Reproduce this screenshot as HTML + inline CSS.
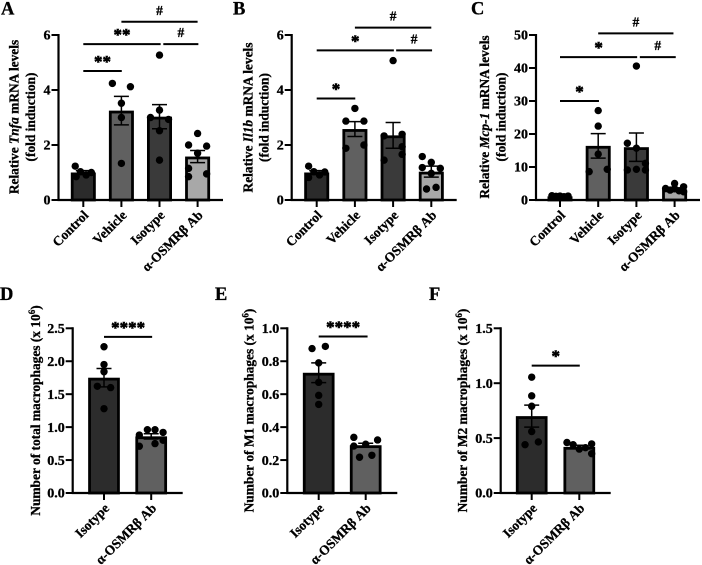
<!DOCTYPE html>
<html lang="en">
<head>
<meta charset="utf-8">
<title>Macrophage and mRNA bar charts</title>
<style>
html,body{margin:0;padding:0;background:#fff;}
svg{display:block;filter:blur(0.35px);}
text{font-family:"Liberation Serif",serif;font-weight:bold;fill:#000;stroke:#000;stroke-width:0.3px;}
</style>
</head>
<body>
<svg id="figure" xmlns="http://www.w3.org/2000/svg" width="702" height="565" viewBox="0 0 702 565">
  <text x="1" y="14.5" font-size="18.5">A</text>
  <text x="233" y="14.5" font-size="18.5">B</text>
  <text x="471" y="14.5" font-size="18.5">C</text>
  <text x="0" y="300" font-size="18.5">D</text>
  <text x="215" y="300" font-size="18.5">E</text>
  <text x="429" y="300" font-size="18.5">F</text>

  <text font-size="13.4" text-anchor="middle" transform="translate(18.5,117) rotate(-90)">Relative <tspan font-style="italic">Tnfa</tspan> mRNA levels</text>
  <text font-size="13.4" text-anchor="middle" transform="translate(35,117) rotate(-90)">(fold induction)</text>
  <text font-size="13.4" text-anchor="middle" transform="translate(252.5,117.5) rotate(-90)">Relative <tspan font-style="italic">Il1b</tspan> mRNA levels</text>
  <text font-size="13.4" text-anchor="middle" transform="translate(268.5,117.5) rotate(-90)">(fold induction)</text>
  <text font-size="13.4" text-anchor="middle" transform="translate(489,117) rotate(-90)">Relative <tspan font-style="italic">Mcp-1</tspan> mRNA levels</text>
  <text font-size="13.4" text-anchor="middle" transform="translate(505.5,117) rotate(-90)">(fold induction)</text>
  <text font-size="13.4" text-anchor="middle" transform="translate(40,410.5) rotate(-90)">Number of total macrophages (x 10<tspan font-size="9" dy="-5">6</tspan><tspan dy="5">)</tspan></text>
  <text font-size="13.4" text-anchor="middle" transform="translate(253.5,410.5) rotate(-90)">Number of M1 macrophages (x 10<tspan font-size="9" dy="-5">6</tspan><tspan dy="5">)</tspan></text>
  <text font-size="13.4" text-anchor="middle" transform="translate(467,410.5) rotate(-90)">Number of M2 macrophages (x 10<tspan font-size="9" dy="-5">6</tspan><tspan dy="5">)</tspan></text>
</svg>
<script>
const categoriesFour = ['Control', 'Vehicle', 'Isotype', 'α-OSMRβ Ab'];
const categoriesTwo = ['Isotype', 'α-OSMRβ Ab'];
const fillsFour = ['#2b2b2b', '#606060', '#3a3a3a', '#a8a8a8'];
const fillsTwo = ['#2c2c2c', '#606060'];

const ticksA = ['0', '2', '4', '6'];
const meansA = [1.0, 3.25, 3.03, 1.58];
const semsA = [0.07, 0.52, 0.44, 0.22];
const pointsA = [
  [1.23, 1.03, 0.85, 0.91, 1.0],
  [4.24, 4.12, 3.52, 3.0, 1.33],
  [5.27, 3.27, 3.0, 2.93, 2.52, 1.45],
  [2.42, 2.0, 1.96, 1.7, 1.15, 0.95, 0.85]
];
const spreadA = [
  [-0.85, -0.3, -0.75, 0.3, 0.85],
  [-0.95, 0.95, 0, 0, 0],
  [0, 0, -0.95, 0.95, 0, 0],
  [0, -0.95, 0.95, 0, -0.95, 0.95, -0.95]
];
const sigA = [
  [1, 3, 6.48, '#'],
  [0, 2.03, 5.67, '**'],
  [2.1, 3.02, 5.67, '#'],
  [0, 1.01, 4.69, '**']
];

const ticksB = ['0', '2', '4', '6'];
const meansB = [1.0, 2.58, 2.35, 1.03];
const semsB = [0.07, 0.27, 0.47, 0.2];
const pointsB = [
  [1.23, 1.03, 0.82, 0.91, 1.02],
  [3.33, 2.87, 2.87, 1.88, 2.0],
  [5.07, 2.39, 2.33, 1.94, 1.66, 1.45],
  [1.58, 1.37, 1.18, 1.15, 0.97, 0.46, 0.4]
];
const spreadB = [
  [-0.85, -0.3, -0.85, 0.3, 0.85],
  [0, -0.95, 0.95, -0.95, 0.95],
  [0, 0.95, -0.95, 0.95, 0.95, -0.95],
  [-0.95, 0, -0.95, 0.95, 0, 0.5, -0.5]
];
const sigB = [
  [1, 3, 6.27, '#'],
  [0, 2.02, 5.44, '*'],
  [2.08, 3.02, 5.44, '#'],
  [0, 1.01, 3.69, '*']
];

const ticksC = ['0', '10', '20', '30', '40', '50'];
const meansC = [1.1, 16.4, 16.0, 3.2];
const semsC = [0.1, 3.7, 4.3, 0.4];
const pointsC = [
  [1.3, 1.1, 1.2, 1.0, 1.2],
  [27.1, 22.4, 13.9, 8.6, 9.3],
  [40.6, 17.2, 15.7, 11.1, 9.1, 9.3, 9.1],
  [5.0, 4.0, 3.5, 3.0, 2.8, 2.5, 3.4]
];
const spreadC = [
  [-0.85, -0.42, 0, 0.42, 0.85],
  [0, 0, 0, -0.95, 0.95],
  [0, -0.95, 0, 0.95, -0.95, 0, 0.95],
  [0, 0.95, -0.95, -0.47, 0.47, 0.95, 0]
];
const sigC = [
  [1, 2.97, 50.5, '#'],
  [0, 2.02, 43.3, '*'],
  [2.09, 3.03, 43.3, '#'],
  [0, 1.02, 30.0, '*']
];

const ticksD = ['0.0', '0.5', '1.0', '1.5', '2.0', '2.5'];
const meansD = [1.75, 0.86];
const semsD = [0.14, 0.04];
const pointsD = [
  [2.22, 1.95, 1.84, 1.62, 1.6, 1.28],
  [0.96, 0.96, 0.92, 0.88, 0.8, 0.75, 0.71]
];
const spreadD = [
  [0, 0, 0, -0.7, 0.7, 0],
  [-0.4, 0.4, 1.25, -1.25, 1.25, 0.4, -1.25]
];
const sigD = [[0, 1.02, 2.37, '****']];

const ticksE = ['0.0', '0.2', '0.4', '0.6', '0.8', '1.0'];
const meansE = [0.73, 0.29];
const semsE = [0.06, 0.012];
const pointsE = [
  [0.877, 0.89, 0.79, 0.672, 0.593, 0.538],
  [0.338, 0.322, 0.296, 0.285, 0.229, 0.217]
];
const spreadE = [
  [-0.7, 0.7, 0, 0, 0, 0],
  [-1.25, 1.25, 0, -1.25, 0.65, -0.65]
];
const sigE = [[0, 1.04, 0.95, '****']];

const ticksF = ['0.0', '0.5', '1.0', '1.5'];
const meansF = [0.7, 0.42];
const semsF = [0.1, 0.015];
const pointsF = [
  [1.055, 0.885, 0.79, 0.56, 0.465, 0.44],
  [0.46, 0.44, 0.447, 0.4, 0.413, 0.358]
];
const spreadF = [
  [0, 0, 0, 0, 0.7, -0.7],
  [-1.3, -0.65, 1.3, 0, 0.65, 1.3]
];
const sigF = [[0, 1.01, 1.16, '*']];

const svg = document.getElementById('figure');
const NS = 'http://www.w3.org/2000/svg';
const BAR_STROKE = 2.8;

function shape(tag, attrs, parent) {
  const node = document.createElementNS(NS, tag);
  for (const k in attrs) node.setAttribute(k, attrs[k]);
  parent.appendChild(node);
  return node;
}

function drawPanel(id, frame, categories, fills, ticks, means, sems, points, spread, sig) {
  const g = shape('g', {}, svg);
  
  

  const yMax = parseFloat(ticks[ticks.length - 1]);
  const yScale = v => frame.zero - (v / yMax) * (frame.zero - frame.top);
  const xScale = i => frame.first + i * frame.step;

  categories.forEach((cat, i) => {
    const cx = xScale(i);
    const barTop = yScale(means[i]) + BAR_STROKE / 2;
    const bar = shape('rect', {
      x: cx - frame.barW / 2, y: barTop,
      width: frame.barW, height: Math.max(0, frame.zero - barTop),
      fill: fills[i], stroke: '#000', 'stroke-width': BAR_STROKE
    }, g);
    
    

    points[i].forEach((v, k) => {
      const dot = shape('circle', {
        cx: cx + spread[i][k] * 9.5, cy: yScale(v), r: 3.7, fill: '#000'
      }, g);
      
      
    });

    const hi = yScale(means[i] + sems[i]);
    const lo = yScale(means[i] - sems[i]);
    const err = shape('path', {
      d: 'M' + (cx - 7.5) + ' ' + hi + 'H' + (cx + 7.5) + 'M' + cx + ' ' + hi + 'V' + lo + 'M' + (cx - 7.5) + ' ' + lo + 'H' + (cx + 7.5),
      fill: 'none', stroke: '#000', 'stroke-width': 1.5
    }, g);
    
    

    const tick = shape('line', {
      x1: cx, x2: cx, y1: frame.zero, y2: frame.zero + 7, stroke: '#000', 'stroke-width': 2
    }, g);
    
    

    const label = shape('text', {
      'font-size': 13.4, 'text-anchor': 'end',
      transform: 'translate(' + (cx + 6) + ',' + (frame.zero + 16) + ') rotate(-45)'
    }, g);
    label.textContent = cat;
    
    
  });

  const axisY = shape('line', {
    x1: frame.axis, x2: frame.axis, y1: frame.top - 1, y2: frame.zero + 1, stroke: '#000', 'stroke-width': 2.2
  }, g);
  
  

  const axisX = shape('line', {
    x1: frame.axis - 1, x2: frame.end, y1: frame.zero, y2: frame.zero, stroke: '#000', 'stroke-width': 2.2
  }, g);
  
  

  ticks.forEach((t, i) => {
    const y = yScale(parseFloat(t));
    const tick = shape('line', {
      x1: frame.axis - 7, x2: frame.axis, y1: y, y2: y, stroke: '#000', 'stroke-width': 2
    }, g);
    
    

    const label = shape('text', {
      x: frame.axis - 8, y: y + 4.7, 'font-size': 14, 'text-anchor': 'end'
    }, g);
    label.textContent = t;
    
    
  });

  sig.forEach((s, i) => {
    const y = yScale(s[2]);
    const x1 = xScale(s[0]);
    const x2 = xScale(s[1]);
    const line = shape('line', {
      x1: x1, x2: x2, y1: y, y2: y, stroke: '#000', 'stroke-width': 2
    }, g);
    
    

    const isHash = s[3] === '#';
    const mark = shape('text', {
      x: (x1 + x2) / 2,
      y: isHash ? y - 7 : y - 4,
      'font-size': isHash ? 13.5 : 17,
      style: 'stroke-width:' + (isHash ? 0.3 : 0.6) + 'px',
      'text-anchor': 'middle'
    }, g);
    mark.textContent = s[3];
    
    
  });
}

drawPanel('a', {axis: 58.5, end: 223, top: 35, zero: 200, first: 83.3, step: 38.1, barW: 22.2},
  categoriesFour, fillsFour, ticksA, meansA, semsA, pointsA, spreadA, sigA);
drawPanel('b', {axis: 291.7, end: 456.7, top: 35, zero: 200, first: 316.7, step: 38.2, barW: 22.2},
  categoriesFour, fillsFour, ticksB, meansB, semsB, pointsB, spreadB, sigB);
drawPanel('c', {axis: 536, end: 700, top: 35, zero: 200, first: 560, step: 38.2, barW: 22.2},
  categoriesFour, fillsFour, ticksC, meansC, semsC, pointsC, spreadC, sigC);
drawPanel('d', {axis: 72.7, end: 182.7, top: 328.3, zero: 493, first: 104, step: 47.2, barW: 28.9},
  categoriesTwo, fillsTwo, ticksD, meansD, semsD, pointsD, spreadD, sigD);
drawPanel('e', {axis: 287.3, end: 397.3, top: 328.3, zero: 493, first: 318.7, step: 47, barW: 28.9},
  categoriesTwo, fillsTwo, ticksE, meansE, semsE, pointsE, spreadE, sigE);
drawPanel('f', {axis: 500.7, end: 610.7, top: 328.3, zero: 493, first: 531.7, step: 47.6, barW: 28.9},
  categoriesTwo, fillsTwo, ticksF, meansF, semsF, pointsF, spreadF, sigF);
</script>
</body>
</html>
